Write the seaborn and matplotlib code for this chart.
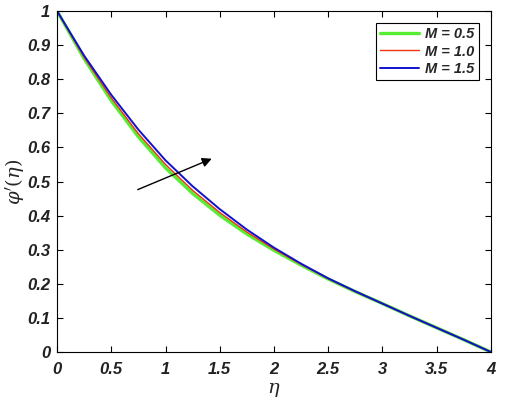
import matplotlib
matplotlib.use("Agg")
import matplotlib.pyplot as plt
import seaborn as sns
import pandas as pd
import numpy as np

eta = [0.0, 0.25, 0.5, 0.75, 1.0, 1.25, 1.5, 1.75, 2.0, 2.25, 2.5, 2.75, 3.0, 3.25, 3.5, 3.75, 4.0]
phi_m05 = [1.0, 0.860, 0.737, 0.631, 0.540, 0.465, 0.401, 0.346, 0.298, 0.255, 0.214, 0.177, 0.142, 0.106, 0.071, 0.036, 0.0]
phi_m10 = [1.0, 0.864, 0.745, 0.640, 0.550, 0.474, 0.409, 0.352, 0.302, 0.257, 0.215, 0.177, 0.142, 0.106, 0.071, 0.036, 0.0]
phi_m15 = [1.0, 0.869, 0.754, 0.652, 0.562, 0.486, 0.419, 0.359, 0.306, 0.259, 0.216, 0.178, 0.142, 0.106, 0.071, 0.036, 0.0]
labels = ["M = 0.5", "M = 1.0", "M = 1.5"]
colors = ["#55ee33", "#ee3311", "#1111cc"]

df = pd.concat([
    pd.DataFrame({"eta": eta, "phi": v, "M": lab})
    for v, lab in zip([phi_m05, phi_m10, phi_m15], labels)
])

sns.set_theme(style="white")
plt.rcParams["font.family"] = ["Liberation Sans", "DejaVu Sans"]
plt.rcParams["mathtext.fontset"] = "dejavuserif"

fig = plt.figure(figsize=(5.05, 4.0), dpi=100)
ax = fig.add_axes([0.113, 0.12, 0.859, 0.8525])

widths = [2.4, 1.0, 1.4]
for lab, col, lw in zip(labels, colors, widths):
    sub = df[df["M"] == lab]
    sns.lineplot(data=sub, x="eta", y="phi", color=col, linewidth=lw, ax=ax,
                 label=lab, estimator=None, sort=False)

ax.set_xlim(0, 4)
ax.set_ylim(0, 1)
ax.set_xticks(np.arange(0, 4.01, 0.5))
ax.set_yticks(np.arange(0, 1.01, 0.1))
ax.set_xticklabels(["0", "0.5", "1", "1.5", "2", "2.5", "3", "3.5", "4"])
ax.set_yticklabels(["0", "0.1", "0.2", "0.3", "0.4", "0.5", "0.6", "0.7", "0.8", "0.9", "1"])
for t in ax.get_xticklabels() + ax.get_yticklabels():
    t.set_fontweight("bold")
    t.set_fontstyle("italic")
    t.set_fontsize(12)
    t.set_color("#222222")

ax.tick_params(direction="in", length=4, width=0.8, top=True, right=True,
               bottom=True, left=True, colors="black", labelcolor="#222222")
ax.tick_params(axis="x", pad=7)
ax.tick_params(axis="y", pad=5)
for s in ax.spines.values():
    s.set_visible(True)
    s.set_color("black")
    s.set_linewidth(0.8)

ax.set_xlabel(r"$\eta$", fontsize=14, labelpad=3)
ax.set_ylabel(r"$\varphi'(\eta)$", fontsize=14, labelpad=1)

leg = ax.legend(loc="upper right", bbox_to_anchor=(0.972, 0.965), borderaxespad=0,
                frameon=True, fancybox=False, edgecolor="black", framealpha=1,
                prop={"weight": "bold", "style": "italic", "size": 10.5},
                handlelength=2.7, handletextpad=0.4, borderpad=0.3,
                labelspacing=0.22)
leg.get_frame().set_linewidth(0.8)

arrow_tail = (0.72, 0.473)
arrow_head = (1.45, 0.57)
ax.annotate("", xy=arrow_head, xytext=arrow_tail,
            arrowprops=dict(arrowstyle="-|>", color="black", lw=1.0,
                            mutation_scale=14))

fig.savefig("out.png", dpi=100)
